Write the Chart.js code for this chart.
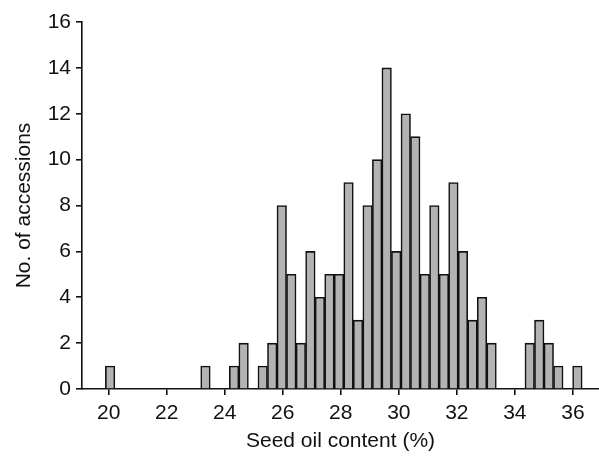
<!DOCTYPE html>
<html>
<head>
<meta charset="utf-8">
<script src="https://cdn.jsdelivr.net/npm/chart.js@4"></script>
<style>
  html, body { margin: 0; padding: 0; background: #fff; }
  #wrap { width: 599px; height: 458px; }
</style>
</head>
<body>
<div id="wrap"><canvas id="histogram"></canvas></div>
<script>
// Bin centres (%) of the seed oil content histogram, 50 bins
const binCenters = [
  20.049, 20.378, 20.706, 21.035, 21.364, 21.693, 22.021, 22.350, 22.679, 23.007,
  23.336, 23.665, 23.993, 24.322, 24.651, 24.980, 25.308, 25.637, 25.966, 26.294,
  26.623, 26.952, 27.280, 27.609, 27.938, 28.267, 28.595, 28.924, 29.253, 29.581,
  29.910, 30.239, 30.567, 30.896, 31.225, 31.554, 31.882, 32.211, 32.540, 32.868,
  33.197, 33.526, 33.854, 34.183, 34.512, 34.841, 35.169, 35.498, 35.827, 36.155
];
// Number of accessions in each bin
const counts = [
  1, 0, 0, 0, 0, 0, 0, 0, 0, 0,
  1, 0, 0, 1, 2, 0, 1, 2, 8, 5,
  2, 6, 4, 5, 5, 9, 3, 8, 10, 14,
  6, 12, 11, 5, 8, 5, 9, 6, 3, 4,
  2, 0, 0, 0, 2, 3, 2, 1, 0, 1
];
const xTicks = [20, 22, 24, 26, 28, 30, 32, 34, 36];
const yTicks = [0, 2, 4, 6, 8, 10, 12, 14, 16];

// only bins with accessions get a bar
const points = [];
binCenters.forEach(function(x, i) {
    if (counts[i] > 0) points.push({ x: x, y: counts[i] });
});

const font = { family: '"Liberation Sans", Arial, sans-serif', size: 21 };

new Chart(document.getElementById('histogram'), {
    type: 'bar',
    data: {
        datasets: [{
            data: points,
            backgroundColor: '#b3b3b3',
            borderColor: '#111',
            borderWidth: 1.6,
            borderSkipped: 'bottom',
            barPercentage: 1,
            categoryPercentage: 1
        }]
    },
    options: {
        responsive: true,
        maintainAspectRatio: false,
        animation: false,
        layout: { padding: { top: 22, right: 0, left: 0, bottom: 0 } },
        plugins: {
            legend: { display: false },
            tooltip: { enabled: false }
        },
        scales: {
            x: {
                type: 'linear',
                offset: false,
                min: 19.08,
                max: 36.9,
                afterFit: function(scale) { scale.height = 69; },
                afterBuildTicks: function(scale) {
                    scale.ticks = xTicks.map(function(v) { return { value: v }; });
                },
                grid: {
                    display: true,
                    offset: false,
                    drawOnChartArea: false,
                    drawTicks: true,
                    tickLength: 6,
                    color: '#111',
                    lineWidth: 1.6
                },
                border: { display: true, color: '#111', width: 1.6 },
                ticks: { color: '#111', font: font, padding: 6, maxRotation: 0 },
                title: {
                    display: true,
                    text: 'Seed oil content (%)',
                    color: '#111',
                    font: font,
                    padding: { top: 0, bottom: 4 }
                }
            },
            y: {
                min: 0,
                max: 16,
                afterFit: function(scale) { scale.width = 82; },
                afterBuildTicks: function(scale) {
                    scale.ticks = yTicks.map(function(v) { return { value: v }; });
                },
                grid: {
                    display: true,
                    drawOnChartArea: false,
                    drawTicks: true,
                    tickLength: 6,
                    color: '#111',
                    lineWidth: 1.6
                },
                border: { display: true, color: '#111', width: 1.6 },
                ticks: { color: '#111', font: font, padding: 5 },
                title: {
                    display: true,
                    text: 'No. of accessions',
                    color: '#111',
                    font: font,
                    padding: { top: 12, bottom: 0 }
                }
            }
        }
    }
});
</script>
</body>
</html>
